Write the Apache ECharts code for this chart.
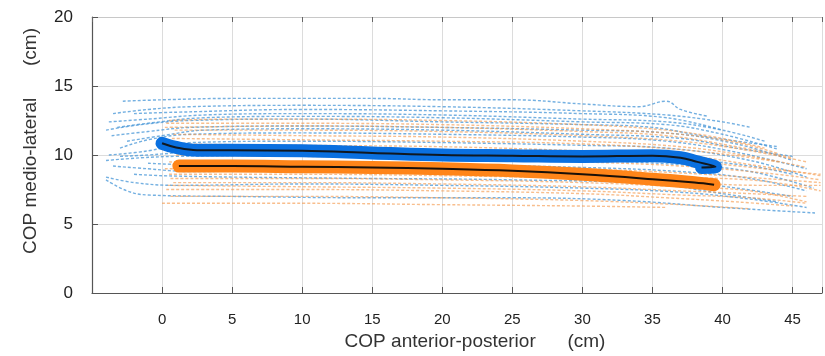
<!DOCTYPE html>
<html>
<head>
<meta charset="utf-8">
<script src="https://cdn.jsdelivr.net/npm/echarts@6/dist/echarts.min.js"></script>
<style>
  html, body { margin: 0; padding: 0; background: #fff; }
  #chart { width: 825px; height: 356px; }
</style>
</head>
<body>
<div id="chart"></div>
<script>
// tick labels
const xTicks = [0, 5, 10, 15, 20, 25, 30, 35, 40, 45];
const yTicks = [0, 5, 10, 15, 20];

// single trials, group 1 (blue dashed), [x, y] in cm
const blueTrials = [
  [[-2.8, 13.9], [0, 14.0], [5, 14.1], [10, 14.1], [15, 14.1], [20, 14.0], [25, 14.0], [30, 13.7], [34, 13.5], [36, 13.9], [37, 13.3], [39, 12.8]],
  [[-3.5, 13.0], [-1, 13.3], [2, 13.5], [10, 13.6], [20, 13.5], [30, 13.2], [36, 12.9], [40, 12.4], [42, 12.0]],
  [[-2, 13.0], [1, 13.1], [10, 13.3], [20, 13.2], [30, 13.0], [36, 12.7], [40, 11.8]],
  [[-3.8, 12.4], [-1, 12.6], [3, 12.9], [10, 13.0], [20, 12.9], [30, 12.6], [36, 12.4], [40, 11.8], [43, 11.0]],
  [[-3.2, 12.0], [-1, 12.3], [3, 12.7], [10, 12.8], [20, 12.7], [30, 12.4], [36, 12.2], [40, 11.5], [44, 10.4]],
  [[-4, 11.8], [-1.5, 12.2], [2, 12.5], [10, 12.6], [20, 12.4], [30, 12.2], [35, 12.0], [39, 11.3], [44, 10.6]],
  [[-3.6, 11.4], [-1, 11.7], [2, 12.0], [10, 12.1], [20, 12.0], [30, 11.8], [36, 11.6], [41, 10.8], [45, 9.6]],
  [[-2.5, 11.0], [0, 11.4], [3, 11.8], [10, 11.9], [20, 11.8], [30, 11.5], [37, 11.2], [41, 10.5], [45, 9.9]],
  [[-3, 10.5], [-1, 11.1], [2, 11.5], [10, 11.6], [20, 11.5], [30, 11.3], [36, 11.0], [41, 10.2], [46, 9.0]],
  [[-3.8, 10.0], [-1, 10.3], [2, 10.9], [10, 11.0], [20, 10.9], [30, 10.7], [36, 10.5], [42, 9.6], [46, 8.4]],
  [[-3, 9.9], [-1, 10.0], [2, 10.2], [10, 10.3], [20, 10.2], [30, 10.0], [37, 9.7], [42, 9.2], [45, 8.6]],
  [[-4, 9.6], [-1.5, 9.8], [1, 9.9], [10, 10.0], [20, 9.8], [30, 9.6], [37, 9.3], [42, 8.8], [46.5, 7.6]],
  [[-1, 9.4], [2, 9.3], [10, 9.4], [20, 9.3], [30, 9.1], [37, 8.8], [42, 8.3], [46, 7.4]],
  [[-3.5, 9.2], [-1, 9.0], [2, 8.8], [10, 8.9], [20, 8.7], [30, 8.5], [36, 8.2], [41, 7.6], [45, 7.0]],
  [[-2, 8.6], [0, 8.5], [5, 8.4], [15, 8.3], [25, 8.2], [35, 7.9], [40, 7.2], [44, 6.6]],
  [[-4, 8.4], [-2, 8.0], [1, 7.8], [10, 7.9], [20, 7.8], [30, 7.6], [37, 7.3], [42, 6.8], [46, 6.2]],
  [[-4, 8.2], [-2.5, 7.4], [-1, 7.1], [5, 7.0], [15, 6.9], [25, 6.9], [33, 6.7], [40, 6.2], [46.6, 5.8]]
];

// single trials, group 2 (orange dashed)
const orangeTrials = [
  [[0.5, 12.5], [5, 12.6], [10, 12.6], [20, 12.5], [30, 12.2], [36, 11.8], [40, 11.2], [43, 10.5]],
  [[0.3, 12.3], [10, 12.3], [20, 12.2], [30, 11.9], [37, 11.5], [41, 10.9], [44, 10.1]],
  [[0.2, 12.0], [10, 12.1], [20, 12.0], [30, 11.7], [36, 11.4], [41, 10.6], [45, 9.8]],
  [[0.9, 11.8], [10, 11.8], [20, 11.7], [30, 11.4], [37, 11.0], [42, 10.3], [46, 9.5]],
  [[0.8, 11.5], [10, 11.4], [20, 11.3], [30, 11.0], [37, 10.6], [42, 9.9], [46, 9.1]],
  [[0.7, 11.2], [10, 11.1], [20, 11.0], [30, 10.8], [38, 10.3], [44, 9.5]],
  [[0.5, 10.8], [10, 10.7], [20, 10.6], [30, 10.3], [37, 10.0], [42, 9.3], [47, 8.5]],
  [[0.5, 10.4], [10, 10.3], [20, 10.2], [30, 9.9], [37, 9.6], [43, 9.0], [47, 8.6]],
  [[1, 10.0], [10, 9.9], [20, 9.8], [30, 9.5], [37, 9.2], [43, 8.7], [47, 8.2]],
  [[0.5, 9.5], [10, 9.4], [20, 9.3], [30, 9.0], [37, 8.7], [43, 8.3], [47, 8.0]],
  [[0.2, 9.0], [10, 9.0], [20, 8.9], [30, 8.7], [37, 8.4], [43, 8.1], [47, 7.4]],
  [[0.5, 8.6], [10, 8.6], [20, 8.5], [30, 8.3], [37, 8.0], [43, 7.8], [47, 7.8]],
  [[0.6, 8.3], [10, 8.3], [20, 8.2], [30, 8.0], [37, 7.7], [42, 7.4], [46, 6.6]],
  [[0.8, 8.0], [10, 8.0], [20, 7.9], [30, 7.7], [37, 7.4], [42, 7.2], [46, 7.0]],
  [[0.4, 7.8], [10, 7.7], [20, 7.6], [30, 7.4], [37, 7.1], [42, 6.9], [46, 6.5]],
  [[0.3, 7.5], [10, 7.5], [20, 7.4], [30, 7.2], [36, 6.9], [41, 6.6], [45, 6.3]],
  [[0.6, 7.0], [10, 7.0], [20, 6.9], [30, 6.7], [37, 6.4], [42, 6.1]],
  [[0, 6.5], [10, 6.5], [20, 6.4], [30, 6.3], [36, 6.2]]
];

// mean paths
const blueMean = [[0, 10.85], [1, 10.55], [2.5, 10.35], [5, 10.35], [10, 10.3], [15, 10.15], [20, 10.0], [25, 9.95], [30, 9.9], [35, 9.95], [37, 9.8], [38.2, 9.5], [39.5, 9.15], [38.5, 9.1]];
const orangeMean = [[1.2, 9.2], [5, 9.2], [10, 9.15], [15, 9.1], [20, 9.0], [25, 8.85], [30, 8.6], [35, 8.25], [38, 8.0], [39.4, 7.85]];

const chart = echarts.init(document.getElementById('chart'));

function trial(data, color) {
  return {
    type: 'line',
    data: data,
    smooth: 0.4,
    symbol: 'none',
    silent: true,
    lineStyle: { color: color, width: 1.4, type: [3, 2] },
  };
}

const series = [];
blueTrials.forEach(d => series.push(trial(d, 'rgba(70,150,215,0.75)')));
orangeTrials.forEach(d => series.push(trial(d, 'rgba(245,155,80,0.65)')));
// thick means with a black centre line
series.push({ type: 'line', data: blueMean, smooth: 0.4, symbol: 'none', z: 5,
  lineStyle: { color: '#0a70e0', width: 13, cap: 'round', join: 'round' } });
series.push({ type: 'line', data: blueMean, smooth: 0.4, symbol: 'none', z: 6,
  lineStyle: { color: '#101820', width: 2 } });
series.push({ type: 'line', data: orangeMean, smooth: 0.4, symbol: 'none', z: 5,
  lineStyle: { color: '#ff8519', width: 13, cap: 'round', join: 'round' } });
series.push({ type: 'line', data: orangeMean, smooth: 0.4, symbol: 'none', z: 6,
  lineStyle: { color: '#1a1008', width: 2 } });

const option = {
  animation: false,
  textStyle: { fontFamily: 'Liberation Sans, Arial, sans-serif' },
  grid: { left: 92, right: 0, top: 17, bottom: 58 },
  xAxis: [
    {
      type: 'value',
      min: -5,
      max: 47.1,
      interval: 5,
      name: 'COP anterior-posterior      (cm)',
      nameLocation: 'middle',
      nameGap: 39,
      nameTextStyle: { fontSize: 19, color: '#333', padding: [0, 0, 0, 36] },
      axisLine: { onZero: false, lineStyle: { color: '#555', width: 1.2 } },
      axisTick: { inside: true, length: 6, lineStyle: { color: '#555' } },
      axisLabel: {
        fontSize: 15, color: '#222', margin: 19,
        formatter: v => (xTicks.indexOf(v) >= 0 ? String(v) : '')
      },
      splitLine: { lineStyle: { color: '#dcdcdc' } },
    },
    {
      type: 'value',
      position: 'top',
      min: -5,
      max: 47.1,
      interval: 5,
      axisLine: { onZero: false, lineStyle: { color: '#c8c8c8' } },
      axisTick: { inside: true, length: 5, lineStyle: { color: '#666' } },
      axisLabel: { show: false },
      splitLine: { show: false },
    }
  ],
  yAxis: {
    type: 'value',
    min: 0,
    max: 20,
    interval: 5,
    name: 'COP medio-lateral      (cm)',
    nameLocation: 'middle',
    nameGap: 52,
    nameTextStyle: { fontSize: 19, color: '#333', padding: [0, 0, 0, 28] },
    axisLine: { show: true, onZero: false, lineStyle: { color: '#555', width: 1.2 } },
    axisTick: { show: true, inside: true, length: 6, lineStyle: { color: '#555' } },
    axisLabel: {
      fontSize: 17, color: '#222', margin: 19,
      formatter: v => (yTicks.indexOf(v) >= 0 ? String(v) : '')
    },
    splitLine: { lineStyle: { color: '#dcdcdc' } },
  },
  series: series,
};
chart.setOption(option);
</script>
</body>
</html>
